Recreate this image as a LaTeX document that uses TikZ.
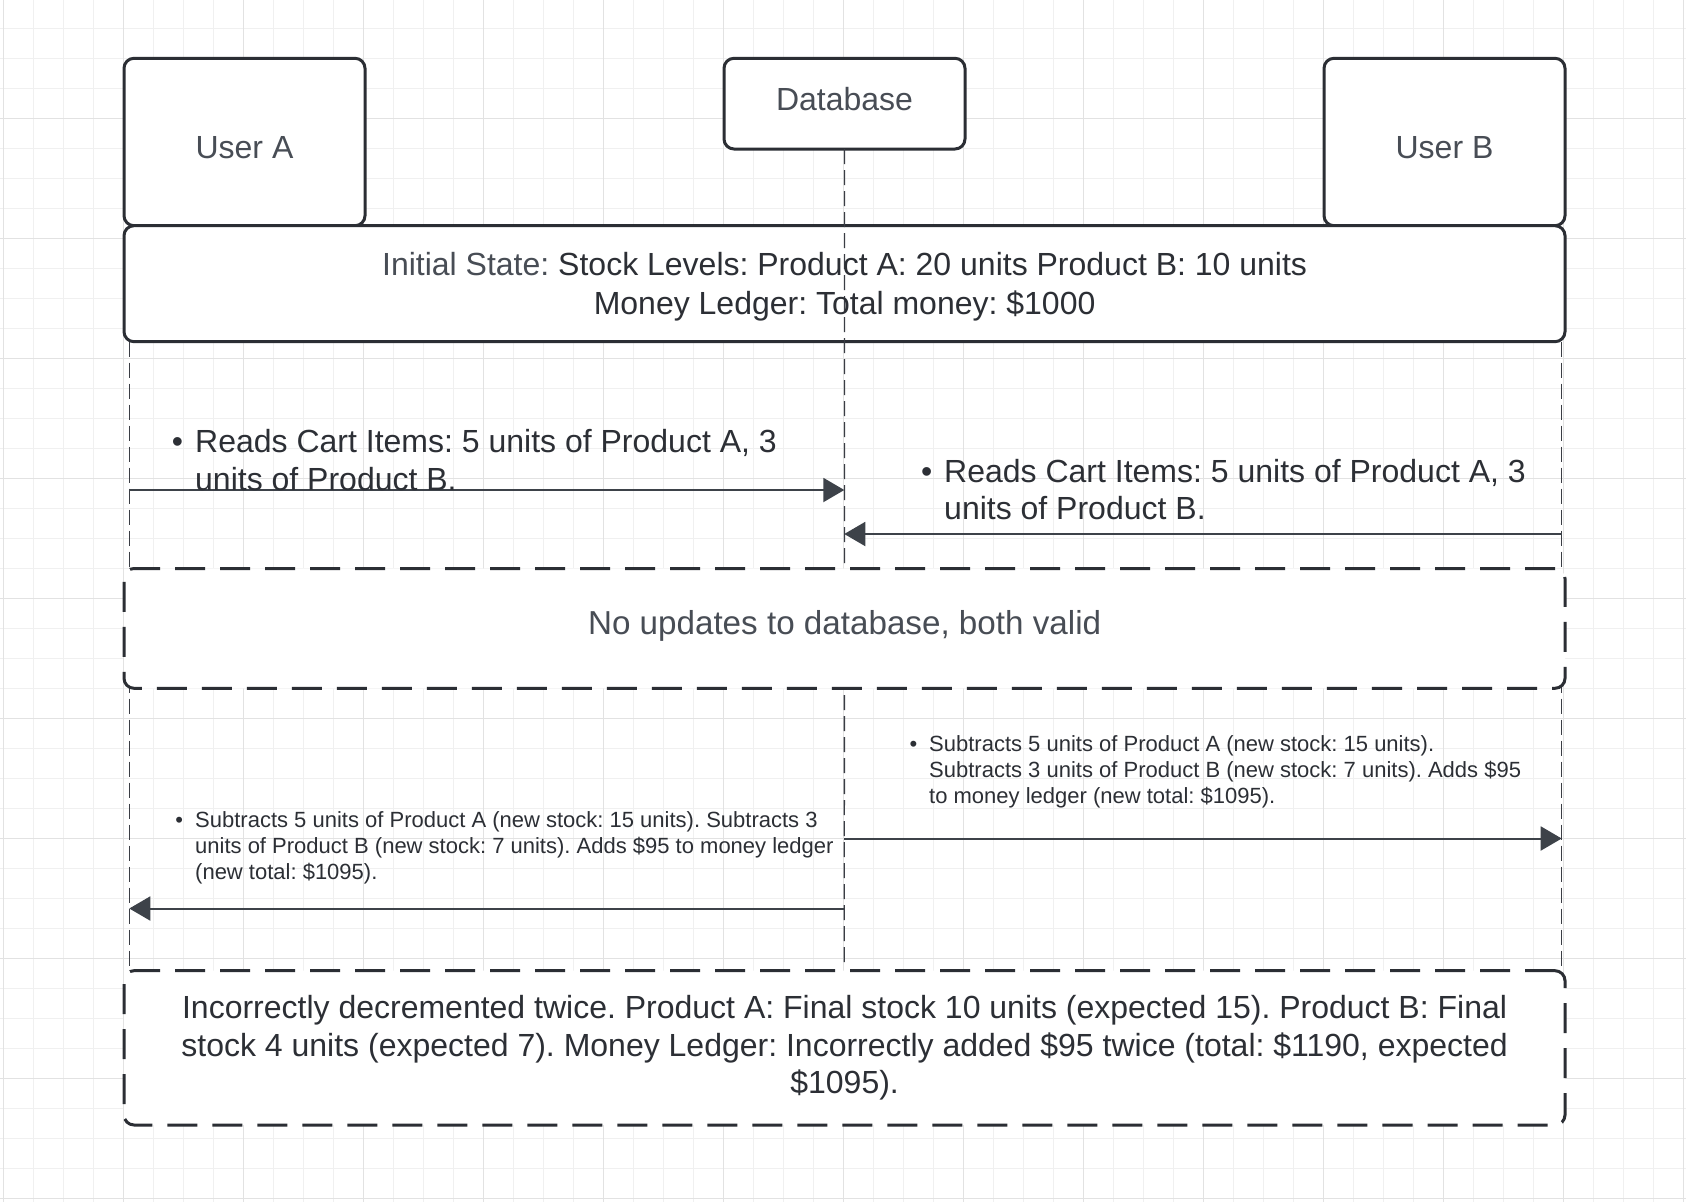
\documentclass[tikz,border=0pt]{standalone}
\usepackage{fontspec}
\setmainfont{Liberation Sans}
\usetikzlibrary{arrows.meta}
\definecolor{gridminor}{HTML}{F0F0F0}
\definecolor{gridmajor}{HTML}{E2E2E2}
\definecolor{boxline}{HTML}{2B2E34}
\definecolor{lifec}{HTML}{3A3D44}
\definecolor{arrowc}{HTML}{3D4249}
\definecolor{txtlight}{HTML}{484D55}
\definecolor{txtdark}{HTML}{2C2F35}
\frenchspacing
\begin{document}
\begin{tikzpicture}[x=1pt,y=-1pt,
  participant/.style={draw=boxline, line width=3pt, rounded corners=10pt, fill=white, inner sep=0pt, outer sep=0pt, anchor=north west},
  statebox/.style={participant},
  notebox/.style={participant, dash pattern=on 30pt off 15pt},
  lifeline/.style={draw=lifec, line width=1.3pt, dash pattern=on 15pt off 6pt},
  msg/.style={draw=arrowc, line width=2pt, -{Triangle[length=21pt,width=24pt,fill=arrowc]}},
  big/.style={font=\fontsize{32}{37.6}\selectfont\frenchspacing, inner sep=0pt},
  bigger/.style={font=\fontsize{33.2}{39}\selectfont\frenchspacing, inner sep=0pt},
  small/.style={font=\fontsize{22}{26.3}\selectfont\frenchspacing, inner sep=0pt},
  light/.style={text=txtlight},
  dark/.style={text=txtdark}
]
\useasboundingbox (0,0) rectangle (1686,1202);
\fill[white] (0,0) rectangle (1686,1202);
% grid
\foreach \x in {3,33,...,1683} \draw[gridminor, line width=1pt] (\x,0) -- (\x,1202);
\foreach \y in {28,58,...,1198} \draw[gridminor, line width=1pt] (0,\y) -- (1686,\y);
\foreach \x in {3,123,...,1683} \draw[gridmajor, line width=1pt] (\x,0) -- (\x,1202);
\foreach \y in {118,238,...,1198} \draw[gridmajor, line width=1pt] (0,\y) -- (1686,\y);

% participants
\node[participant, minimum width=241pt, minimum height=167.4pt] (ua) at (124,58.3) {};
\node[participant, minimum width=241pt, minimum height=90.7pt] (db) at (724,58.3) {};
\node[participant, minimum width=241pt, minimum height=167.4pt] (ub) at (1324,58.3) {};
% initial state
\node[statebox, minimum width=1441pt, minimum height=116pt] (st) at (124,225.7) {};

% lifelines
\coordinate (dbend) at (844.3,962);
\coordinate (latop) at (129.3,341.7);
\coordinate (labot) at (129.3,970.7);
\coordinate (lbtop) at (1561.7,341.7);
\coordinate (lbbot) at (1561.7,970.7);
\draw[lifeline] (db.south) -- (dbend);
\draw[lifeline] (latop) -- (labot);
\draw[lifeline] (lbtop) -- (lbbot);

% note boxes
\node[notebox, minimum width=1441pt, minimum height=119.8pt] (n1) at (124,568.5) {};
\node[notebox, minimum width=1441pt, minimum height=154.3pt] (n2) at (124,970.7) {};

% labels
\node[big, light, anchor=base] (uaL) at (244.5,158.3) {User A};
\node[big, light, anchor=base] (dbL) at (844.5,110.7) {Database};
\node[big, light, anchor=base] (ubL) at (1444.5,158.3) {User B};
\node[big, dark, anchor=base] (st1) at (844.6,275.5) {{\color{txtlight}Initial State:} Stock Levels: Product A: 20 units Product B: 10 units};
\node[big, dark, anchor=base] (st2) at (844.6,314.2) {Money Ledger: Total money: \$1000};
\node[bigger, light, anchor=base] (n1L) at (844.6,634.5) {No updates to database, both valid};
\node[big, dark, anchor=base] (n2a) at (844.6,1018.5) {Incorrectly decremented twice. Product A: Final stock 10 units (expected 15). Product B: Final};
\node[big, dark, anchor=base] (n2b) at (844.6,1056.1) {stock 4 units (expected 7). Money Ledger: Incorrectly added \$95 twice (total: \$1190, expected};
\node[big, dark, anchor=base] (n2c) at (844.6,1093.7) {\$1095).};

% messages
\coordinate (m1s) at (129.3,490);
\coordinate (m1e) at (844.3,490);
\coordinate (m2s) at (1561.7,534);
\coordinate (m2e) at (844.3,534);
\coordinate (m3s) at (844.3,838.5);
\coordinate (m3e) at (1561.7,838.5);
\coordinate (m4s) at (844.3,908.5);
\coordinate (m4e) at (129.3,908.5);
\draw[msg] (m1s) -- (m1e);
\draw[msg] (m2s) -- (m2e);
\draw[msg] (m3s) -- (m3e);
\draw[msg] (m4s) -- (m4e);

\node[big, dark, anchor=base west] (r1) at (195,452.4) {\vtop{\hbox{\llap{\textbullet\hspace{12pt}}Reads Cart Items: 5 units of Product A, 3}\hbox{units of Product B.}}};
\node[big, dark, anchor=base west] (r2) at (944,482) {\vtop{\hbox{\llap{\textbullet\hspace{12pt}}Reads Cart Items: 5 units of Product A, 3}\hbox{units of Product B.}}};
\node[small, dark, anchor=base west] (s1) at (929,751) {\vtop{\hbox{\llap{\textbullet\hspace{12pt}}Subtracts 5 units of Product A (new stock: 15 units).}\hbox{Subtracts 3 units of Product B (new stock: 7 units). Adds \$95}\hbox{to money ledger (new total: \$1095).}}};
\node[small, dark, anchor=base west] (s2) at (195,827) {\vtop{\hbox{\llap{\textbullet\hspace{12pt}}Subtracts 5 units of Product A (new stock: 15 units). Subtracts 3}\hbox{units of Product B (new stock: 7 units). Adds \$95 to money ledger}\hbox{(new total: \$1095).}}};
\end{tikzpicture}
\end{document}
